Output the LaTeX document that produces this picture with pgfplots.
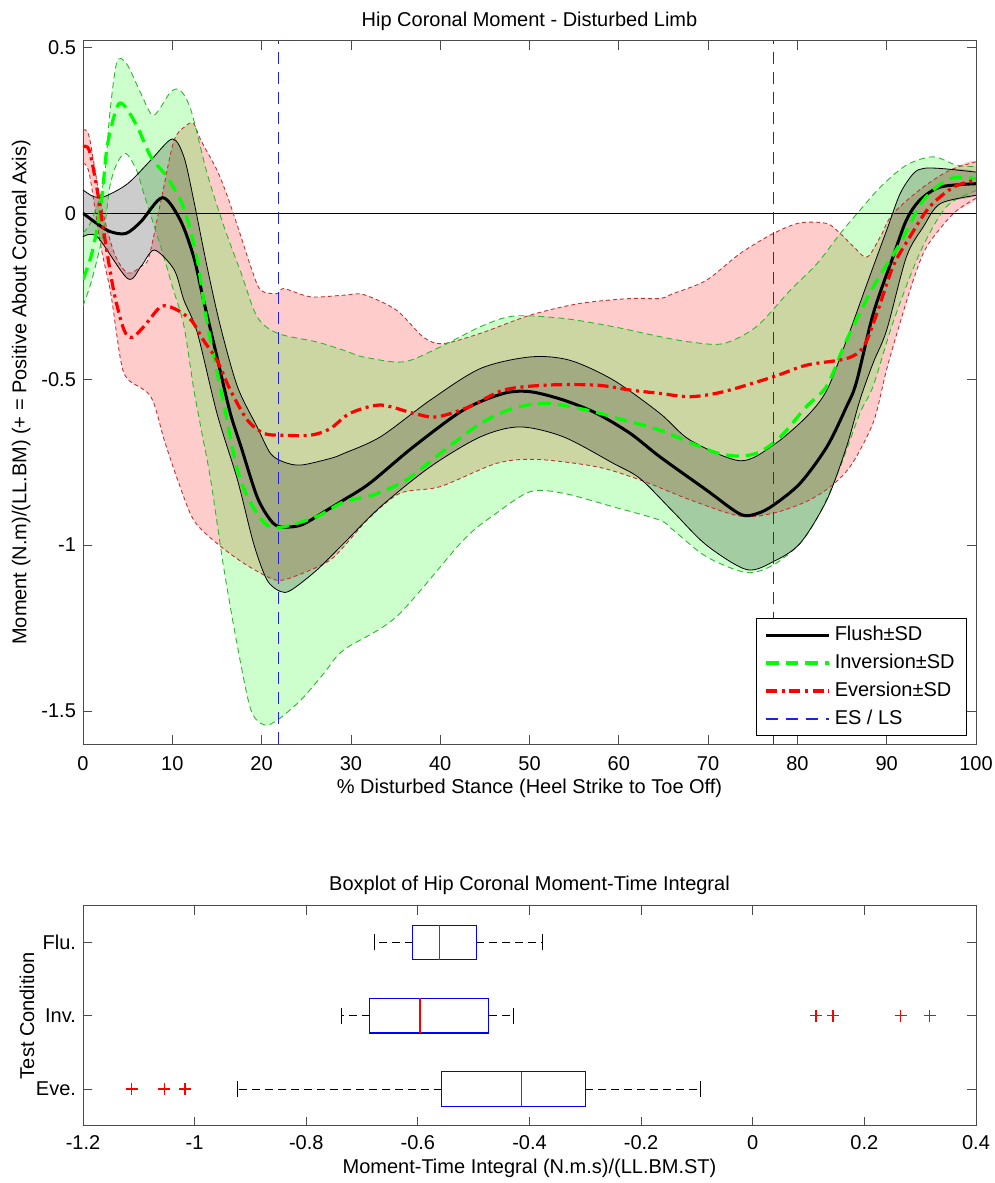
\documentclass[border=0pt]{standalone}
\usepackage{fontspec}
\setmainfont{Liberation Sans}
\usepackage{pgfplots}
\pgfplotsset{compat=1.18}
\usepackage{pgfplotstable}
\usepgfplotslibrary{statistics}

% Flush mean / upper / lower
\pgfplotstableread{
x y
0 0
1.5 -0.03
3 -0.055
4.8 -0.061
6.5 -0.025
8.9 0.047
10.9 -0.021
12.4 -0.132
13.5 -0.262
15.0 -0.433
16.5 -0.603
17.7 -0.704
19.5 -0.855
21.0 -0.925
22.1 -0.945
24.4 -0.94
27.0 -0.90
29.2 -0.864
32.1 -0.814
37.0 -0.704
42.6 -0.593
47.1 -0.543
50.1 -0.538
53.8 -0.563
57.5 -0.603
61.3 -0.664
64.6 -0.734
69.8 -0.834
73.6 -0.907
75.5 -0.905
77.3 -0.88
80.3 -0.814
83.3 -0.704
85.5 -0.583
86.6 -0.51
88.5 -0.302
90.7 -0.132
92.2 -0.021
93.7 0.039
96.0 0.079
100 0.089
}\tabFM
\pgfplotstableread{
x y
0 0.07
1.2 0.05
2.4 0.05
5.0 0.089
7.6 0.16
10.0 0.224
11.3 0.17
12.4 0.039
13.9 -0.162
15.4 -0.342
17.3 -0.523
19.5 -0.644
21.0 -0.724
22.5 -0.75
24.4 -0.759
27.7 -0.739
29.2 -0.724
33.3 -0.674
38.9 -0.563
44.5 -0.468
50.1 -0.433
54.5 -0.443
59.4 -0.503
64.6 -0.603
68.0 -0.684
73.6 -0.746
77.3 -0.699
81.0 -0.614
83.3 -0.533
85.5 -0.383
87.8 -0.212
90.0 -0.051
91.5 0.059
93.0 0.12
94.1 0.135
96.0 0.135
100 0.124
}\tabFU
\pgfplotstableread{
x y
0 -0.071
1.6 -0.071
5.0 -0.197
6.5 -0.16
8.0 -0.111
10.2 -0.17
11.3 -0.262
12.8 -0.36
15.0 -0.603
17.3 -0.804
19.1 -0.995
20.6 -1.105
22.1 -1.14
23.3 -1.136
26.2 -1.075
29.2 -0.995
33.3 -0.885
38.9 -0.764
44.5 -0.674
48.9 -0.644
53.8 -0.674
59.4 -0.754
62.4 -0.8
66.1 -0.9
69.8 -1.0
74.3 -1.074
77.3 -1.05
80.3 -0.995
83.3 -0.864
85.5 -0.704
87.0 -0.563
88.5 -0.45
90.0 -0.352
92.2 -0.132
94.1 -0.041
96.0 0.029
100 0.054
}\tabFL
% Flush SD band (upper forward, lower backward)
\pgfplotstableread{
x y
0 0.07
1.2 0.05
2.4 0.05
5.0 0.089
7.6 0.16
10.0 0.224
11.3 0.17
12.4 0.039
13.9 -0.162
15.4 -0.342
17.3 -0.523
19.5 -0.644
21.0 -0.724
22.5 -0.75
24.4 -0.759
27.7 -0.739
29.2 -0.724
33.3 -0.674
38.9 -0.563
44.5 -0.468
50.1 -0.433
54.5 -0.443
59.4 -0.503
64.6 -0.603
68.0 -0.684
73.6 -0.746
77.3 -0.699
81.0 -0.614
83.3 -0.533
85.5 -0.383
87.8 -0.212
90.0 -0.051
91.5 0.059
93.0 0.12
94.1 0.135
96.0 0.135
100 0.124
100 0.054
96.0 0.029
94.1 -0.041
92.2 -0.132
90.0 -0.352
88.5 -0.45
87.0 -0.563
85.5 -0.704
83.3 -0.864
80.3 -0.995
77.3 -1.05
74.3 -1.074
69.8 -1.0
66.1 -0.9
62.4 -0.8
59.4 -0.754
53.8 -0.674
48.9 -0.644
44.5 -0.674
38.9 -0.764
33.3 -0.885
29.2 -0.995
26.2 -1.075
23.3 -1.136
22.1 -1.14
20.6 -1.105
19.1 -0.995
17.3 -0.804
15.0 -0.603
12.8 -0.36
11.3 -0.262
10.2 -0.17
8.0 -0.111
6.5 -0.16
5.0 -0.197
1.6 -0.071
0 -0.071
}\tabFB

% Inversion mean / upper / lower
\pgfplotstableread{
x y
0 -0.2
1.0 -0.12
2.0 0.02
2.7 0.2
3.8 0.32
4.6 0.325
6.1 0.26
7.6 0.17
9.4 0.11
10.9 0.04
11.7 -0.02
12.8 -0.14
13.9 -0.33
15.8 -0.58
17.3 -0.774
18.8 -0.874
20.6 -0.94
22.5 -0.945
26.2 -0.914
29.2 -0.87
32.5 -0.849
36.2 -0.804
40.0 -0.724
44.5 -0.634
48.2 -0.588
51.9 -0.573
56.4 -0.593
60.5 -0.623
64.6 -0.654
70.6 -0.719
73.6 -0.732
75.8 -0.719
78.1 -0.674
81.0 -0.583
83.3 -0.52
85.5 -0.383
88.5 -0.222
91.5 -0.091
94.1 0.039
97.1 0.104
100 0.104
}\tabIM
\pgfplotstableread{
x y
0 -0.06
1.0 -0.02
2.35 0.1
3.0 0.3
3.8 0.456
4.9 0.45
6.5 0.36
7.9 0.295
9.8 0.365
10.9 0.37
12.1 0.31
13.9 0.12
15.8 -0.041
17.7 -0.18
19.5 -0.312
21.8 -0.362
26.2 -0.388
29.2 -0.413
31.4 -0.433
35.9 -0.448
40.0 -0.403
44.5 -0.342
48.2 -0.31
53.8 -0.317
59.4 -0.342
64.6 -0.372
68.0 -0.388
71.7 -0.393
75.4 -0.342
79.2 -0.232
82.2 -0.152
84.8 -0.061
87.0 0.009
89.3 0.079
92.2 0.145
95.2 0.17
97.8 0.145
100 0.14
}\tabIU
\pgfplotstableread{
x y
0 -0.28
1.0 -0.2
2.35 -0.05
3.0 0.08
3.8 0.15
4.8 0.18
6.0 0.13
6.8 0.06
8.7 -0.10
10.0 -0.22
11.3 -0.34
12.4 -0.53
13.3 -0.66
14.3 -0.804
15.8 -1.075
17.3 -1.306
18.8 -1.497
20.3 -1.542
21.8 -1.527
24.4 -1.467
27.0 -1.386
29.2 -1.316
35.1 -1.216
42.6 -0.985
46.3 -0.904
50.1 -0.839
53.8 -0.844
59.4 -0.885
64.6 -0.925
66.1 -0.955
69.8 -1.035
74.3 -1.083
77.3 -1.06
80.3 -0.995
82.5 -0.904
84.8 -0.764
87.0 -0.603
88.5 -0.52
90.7 -0.33
93.7 -0.12
96.7 0.02
100 0.068
}\tabIL
\pgfplotstableread{
x y
0 -0.06
1.0 -0.02
2.35 0.1
3.0 0.3
3.8 0.456
4.9 0.45
6.5 0.36
7.9 0.295
9.8 0.365
10.9 0.37
12.1 0.31
13.9 0.12
15.8 -0.041
17.7 -0.18
19.5 -0.312
21.8 -0.362
26.2 -0.388
29.2 -0.413
31.4 -0.433
35.9 -0.448
40.0 -0.403
44.5 -0.342
48.2 -0.31
53.8 -0.317
59.4 -0.342
64.6 -0.372
68.0 -0.388
71.7 -0.393
75.4 -0.342
79.2 -0.232
82.2 -0.152
84.8 -0.061
87.0 0.009
89.3 0.079
92.2 0.145
95.2 0.17
97.8 0.145
100 0.14
100 0.068
96.7 0.02
93.7 -0.12
90.7 -0.33
88.5 -0.52
87.0 -0.603
84.8 -0.764
82.5 -0.904
80.3 -0.995
77.3 -1.06
74.3 -1.083
69.8 -1.035
66.1 -0.955
64.6 -0.925
59.4 -0.885
53.8 -0.844
50.1 -0.839
46.3 -0.904
42.6 -0.985
35.1 -1.216
29.2 -1.316
27.0 -1.386
24.4 -1.467
21.8 -1.527
20.3 -1.542
18.8 -1.497
17.3 -1.306
15.8 -1.075
14.3 -0.804
13.3 -0.66
12.4 -0.53
11.3 -0.34
10.0 -0.22
8.7 -0.10
6.8 0.06
6.0 0.13
4.8 0.18
3.8 0.15
3.0 0.08
2.35 -0.05
1.0 -0.2
0 -0.28
}\tabIB

% Eversion mean / upper / lower
\pgfplotstableread{
x y
0 0.2
0.7 0.19
1.6 0.069
2.35 -0.061
3.5 -0.242
4.6 -0.352
5.5 -0.374
6.8 -0.342
8.7 -0.282
10.2 -0.287
12.1 -0.322
13.5 -0.383
15.0 -0.443
16.5 -0.533
18.4 -0.623
20.3 -0.664
22.5 -0.669
25.5 -0.669
27.7 -0.649
29.9 -0.603
33.3 -0.578
37.0 -0.603
39.6 -0.614
43.3 -0.583
47.1 -0.533
51.9 -0.518
57.5 -0.518
61.3 -0.533
64.6 -0.543
68.0 -0.553
71.7 -0.538
77.3 -0.493
81.0 -0.458
85.5 -0.438
87.4 -0.403
88.9 -0.302
90.7 -0.161
92.6 -0.071
94.8 0.019
97.5 0.079
100 0.1
}\tabEM
\pgfplotstableread{
x y
0 0.25
0.7 0.23
2.0 0.03
3.5 -0.12
5.0 -0.18
6.5 -0.16
7.4 -0.13
8.9 0.06
10.2 0.22
11.6 0.265
12.4 0.27
13.2 0.22
15.0 0.13
16.2 0.049
17.7 -0.071
18.8 -0.162
19.9 -0.232
21.8 -0.242
22.5 -0.227
25.5 -0.252
29.2 -0.247
31.4 -0.245
35.1 -0.292
38.1 -0.373
40.3 -0.393
44.5 -0.362
50.1 -0.307
55.6 -0.272
61.3 -0.257
64.6 -0.257
66.1 -0.242
69.8 -0.202
73.6 -0.121
77.3 -0.061
80.3 -0.029
83.3 -0.031
84.8 -0.061
86.3 -0.101
87.8 -0.132
89.3 -0.07
90.7 -0.001
94.1 0.079
97.1 0.13
100 0.155
}\tabEU
\pgfplotstableread{
x y
0 0.15
0.7 0.12
2.0 -0.1
3.1 -0.24
4.2 -0.44
5.0 -0.5
7.6 -0.553
9.1 -0.684
10.6 -0.804
12.4 -0.925
15.0 -0.995
18.0 -1.055
21.0 -1.1
22.5 -1.105
25.5 -1.075
27.7 -1.045
29.2 -1.005
32.0 -0.92
35.5 -0.844
40.0 -0.824
46.3 -0.754
50.8 -0.742
57.5 -0.764
62.4 -0.804
68.0 -0.864
73.6 -0.913
77.3 -0.904
81.0 -0.869
83.7 -0.824
86.0 -0.76
88.5 -0.63
90.0 -0.47
91.5 -0.33
93.0 -0.2
94.5 -0.1
97.5 0.0
100 0.045
}\tabEL
\pgfplotstableread{
x y
0 0.25
0.7 0.23
2.0 0.03
3.5 -0.12
5.0 -0.18
6.5 -0.16
7.4 -0.13
8.9 0.06
10.2 0.22
11.6 0.265
12.4 0.27
13.2 0.22
15.0 0.13
16.2 0.049
17.7 -0.071
18.8 -0.162
19.9 -0.232
21.8 -0.242
22.5 -0.227
25.5 -0.252
29.2 -0.247
31.4 -0.245
35.1 -0.292
38.1 -0.373
40.3 -0.393
44.5 -0.362
50.1 -0.307
55.6 -0.272
61.3 -0.257
64.6 -0.257
66.1 -0.242
69.8 -0.202
73.6 -0.121
77.3 -0.061
80.3 -0.029
83.3 -0.031
84.8 -0.061
86.3 -0.101
87.8 -0.132
89.3 -0.07
90.7 -0.001
94.1 0.079
97.1 0.13
100 0.155
100 0.045
97.5 0.0
94.5 -0.1
93.0 -0.2
91.5 -0.33
90.0 -0.47
88.5 -0.63
86.0 -0.76
83.7 -0.824
81.0 -0.869
77.3 -0.904
73.6 -0.913
68.0 -0.864
62.4 -0.804
57.5 -0.764
50.8 -0.742
46.3 -0.754
40.0 -0.824
35.5 -0.844
32.0 -0.92
29.2 -1.005
27.7 -1.045
25.5 -1.075
22.5 -1.105
21.0 -1.1
18.0 -1.055
15.0 -0.995
12.4 -0.925
10.6 -0.804
9.1 -0.684
7.6 -0.553
5.0 -0.5
4.2 -0.44
3.1 -0.24
2.0 -0.1
0.7 0.12
0 0.15
}\tabEB

\definecolor{mgreen}{rgb}{0,1,0}
\definecolor{sdgreen}{rgb}{0.2,0.7,0.2}
\definecolor{sdred}{rgb}{0.75,0.2,0.2}
\definecolor{esblue}{rgb}{0.12,0.12,0.9}

\pgfplotsset{
  every axis/.append style={font=\fontsize{10}{12}\selectfont},
  /pgf/number format/assume math mode=true,
  major tick length=4.5pt,
  axis line style={black!70},
  every tick/.style={black!70},
}

\begin{document}
\begin{tikzpicture}[font=\fontsize{10}{12}\selectfont]
\path[use as bounding box] (-41.5pt,20.35pt) rectangle (456pt,-571.15pt);

\begin{axis}[
  at={(0pt,0pt)}, anchor=north west,
  width=446.5pt, height=351.7pt, scale only axis,
  xmin=0, xmax=100, ymin=-1.6, ymax=0.52,
  xtick={0,10,20,30,40,50,60,70,80,90,100},
  ytick={-1.5,-1,-0.5,0,0.5},
  xticklabel style={yshift=-2.5pt},
  title={Hip Coronal Moment - Disturbed Limb},
  title style={at={(0.5,1)}, anchor=base, yshift=1.35pt},
  xlabel={\% Disturbed Stance (Heel Strike to Toe Off)},
  every axis x label/.style={at={(axis description cs:0.5,0)}, anchor=base, yshift=-24.8pt},
  ylabel={Moment (N.m)/(LL.BM) (+ = Positive About Coronal Axis)},
  every axis y label/.style={at={(axis description cs:-0.0633,0.5)}, rotate=90, anchor=base},
  legend cell align=left,
  legend style={at={(0.99,0.0115)}, anchor=south east, draw=black, fill=white,
    font=\fontsize{10}{12}\selectfont, row sep=1.2pt, inner xsep=4pt, inner ysep=2pt},
  legend image code/.code={\draw[#1] (0pt,0pt) -- (31.5pt,0pt);},
]
% SD fills
\addplot[fill=red, fill opacity=0.2, draw=none, smooth, forget plot] table {\tabEB};
\addplot[fill=mgreen, fill opacity=0.2, draw=none, smooth, forget plot] table {\tabIB};
\addplot[fill=black, fill opacity=0.2, draw=none, smooth, forget plot] table {\tabFB};

% zero line
\addplot[black, line width=0.5pt, forget plot] coordinates {(0,0) (100,0)};

% SD boundaries
\addplot[sdred, line width=0.45pt, dash pattern=on 2pt off 1.5pt, smooth, forget plot] table {\tabEU};
\addplot[sdred, line width=0.45pt, dash pattern=on 2pt off 1.5pt, smooth, forget plot] table {\tabEL};
\addplot[sdgreen, line width=0.45pt, dash pattern=on 3pt off 2pt, smooth, forget plot] table {\tabIU};
\addplot[sdgreen, line width=0.45pt, dash pattern=on 3pt off 2pt, smooth, forget plot] table {\tabIL};
\addplot[black, line width=0.4pt, smooth, forget plot] table {\tabFU};
\addplot[black, line width=0.4pt, smooth, forget plot] table {\tabFL};

% means
\addplot[black, line width=1.5pt, smooth] table {\tabFM};
\addlegendentry{Flush±SD}
\addplot[mgreen, line width=1.6pt, dash pattern=on 6.3pt off 3.5pt, smooth] table {\tabIM};
\addlegendentry{Inversion±SD}
\addplot[red, line width=1.6pt, dash pattern=on 5.5pt off 2.3pt on 1.5pt off 2.3pt, smooth] table {\tabEM};
\addlegendentry{Eversion±SD}

% ES / LS
\addplot[esblue, line width=0.7pt, dash pattern=on 6pt off 4pt] coordinates {(21.9,-1.6) (21.9,0.52)};
\addlegendentry{ES / LS}
\addplot[esblue, line width=0.7pt, dash pattern=on 6pt off 4pt, forget plot] coordinates {(77.3,-1.6) (77.3,0.52)};
\end{axis}

\begin{axis}[
  at={(0pt,-432.5pt)}, anchor=north west,
  width=446.5pt, height=110pt, scale only axis,
  xmin=-1.2, xmax=0.4, ymin=0.5, ymax=3.5,
  xtick={-1.2,-1,-0.8,-0.6,-0.4,-0.2,0,0.2,0.4},
  ytick={1,2,3}, yticklabels={Eve.,Inv.,Flu.},
  xticklabel style={yshift=-1.5pt},
  title={Boxplot of Hip Coronal Moment-Time Integral},
  title style={at={(0.5,1)}, anchor=base, yshift=1.8pt},
  xlabel={Moment-Time Integral (N.m.s)/(LL.BM.ST)},
  every axis x label/.style={at={(axis description cs:0.5,0)}, anchor=base, yshift=-23.9pt},
  ylabel={Test Condition},
  every axis y label/.style={at={(axis description cs:-0.0546,0.5)}, rotate=90, anchor=base},
  boxplot/every whisker/.style={black, line width=0.5pt, dash pattern=on 4pt off 2.5pt},
  boxplot/every median/.style={red, line width=0.7pt},
  boxplot/every box/.style={draw=blue, line width=0.6pt},
]
% Flush
\addplot[draw=blue, line width=0.6pt,
  boxplot prepared={draw position=3, lower whisker=-0.678, lower quartile=-0.609,
    median=-0.561, upper quartile=-0.495, upper whisker=-0.377,
    box extend=0.47, whisker extend=0}] coordinates {};
% Inversion
\addplot[draw=blue, line width=0.6pt,
  boxplot prepared={draw position=2, lower whisker=-0.736, lower quartile=-0.686,
    median=-0.596, upper quartile=-0.473, upper whisker=-0.429,
    box extend=0.47, whisker extend=0}] coordinates {};
% Eversion
\addplot[draw=blue, line width=0.6pt,
  boxplot prepared={draw position=1, lower whisker=-0.924, lower quartile=-0.557,
    median=-0.414, upper quartile=-0.300, upper whisker=-0.093,
    box extend=0.47, whisker extend=0}] coordinates {};
% outliers
\addplot[only marks, mark=+, mark size=3pt, color=red, line width=0.7pt] coordinates {(0.113,2) (0.144,2) (0.265,2) (0.317,2)};
\addplot[only marks, mark=+, mark size=3pt, color=red, line width=0.7pt] coordinates {(-1.113,1) (-1.054,1) (-1.017,1)};
% whisker caps
\addplot[black, line width=0.5pt] coordinates {(-0.678,2.89) (-0.678,3.11)};
\addplot[black, line width=0.5pt] coordinates {(-0.377,2.89) (-0.377,3.11)};
\addplot[black, line width=0.5pt] coordinates {(-0.736,1.89) (-0.736,2.11)};
\addplot[black, line width=0.5pt] coordinates {(-0.429,1.89) (-0.429,2.11)};
\addplot[black, line width=0.5pt] coordinates {(-0.924,0.89) (-0.924,1.11)};
\addplot[black, line width=0.5pt] coordinates {(-0.093,0.89) (-0.093,1.11)};
\end{axis}
\end{tikzpicture}
\end{document}
